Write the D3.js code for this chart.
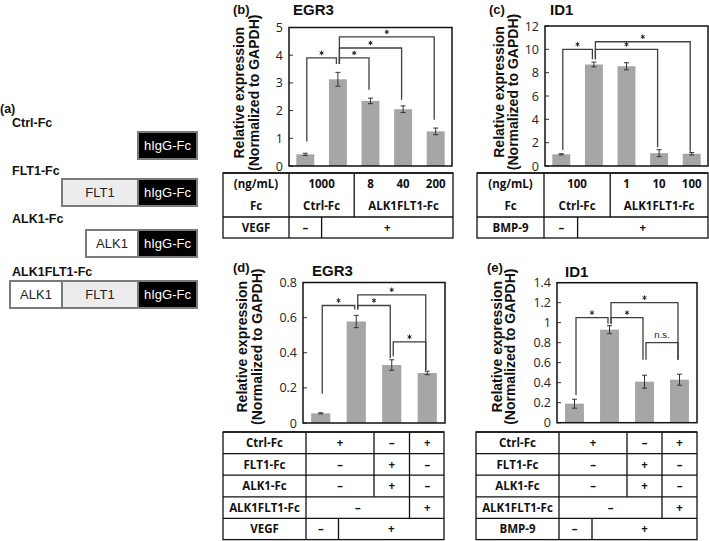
<!DOCTYPE html>
<html><head><meta charset="utf-8">
<script src="https://cdn.jsdelivr.net/npm/d3@7/dist/d3.min.js"></script>
<style>body{margin:0;background:#fff}</style>
</head><body><svg id="c" width="709" height="541"></svg>
<script>
// ---------------- DATA ----------------
const constructNames = ["Ctrl-Fc", "FLT1-Fc", "ALK1-Fc", "ALK1FLT1-Fc"];
const constructDomains = [["hIgG-Fc"], ["FLT1", "hIgG-Fc"], ["ALK1", "hIgG-Fc"], ["ALK1", "FLT1", "hIgG-Fc"]];

// (b) EGR3
const bValues = [0.42, 3.13, 2.35, 2.05, 1.25];
const bErrors = [0.04, 0.25, 0.10, 0.12, 0.12];
const bTicks = [0, 1, 2, 3, 4, 5];
const bTickLabels = ["0", "1", "2", "3", "4", "5"];
// [fromBar, toBar, level, label, fromLegEnd, toLegEnd]
const bBrackets = [[0, 1, 3.9, "*", 0.88, 3.68], [1, 2, 3.9, "*", 3.68, 2.75], [1, 3, 4.26, "*", 3.68, 2.39], [1, 4, 4.66, "*", 3.68, 1.67]];
// cells: [fromBar, toBar, text, drawLeftDivider]
const bTable = [
  {label: "(ng/mL)", cells: [[0, 1, "1000", 1], [2, 2, "8", 1], [3, 3, "40", 0], [4, 4, "200", 0]]},
  {label: "Fc", cells: [[0, 1, "Ctrl-Fc", 1], [2, 4, "ALK1FLT1-Fc", 1]]},
  {label: "VEGF", cells: [[0, 0, "–", 1], [1, 4, "+", 1]]}
];

// (c) ID1
const cValues = [1.0, 8.7, 8.55, 1.1, 1.05];
const cErrors = [0.05, 0.2, 0.3, 0.3, 0.1];
const cTicks = [0, 2, 4, 6, 8, 10, 12];
const cTickLabels = ["0", "2", "4", "6", "8", "10", "12"];
const cBrackets = [[0, 1, 10.0, "*", 1.37, 9.15], [1, 3, 10.0, "*", 9.15, 1.6], [1, 4, 10.65, "*", 9.15, 1.23]];
const cTable = [
  {label: "(ng/mL)", cells: [[0, 1, "100", 1], [2, 2, "1", 1], [3, 3, "10", 0], [4, 4, "100", 0]]},
  {label: "Fc", cells: [[0, 1, "Ctrl-Fc", 1], [2, 4, "ALK1FLT1-Fc", 1]]},
  {label: "BMP-9", cells: [[0, 0, "–", 1], [1, 4, "+", 1]]}
];

// (d) EGR3
const dValues = [0.055, 0.578, 0.33, 0.285];
const dErrors = [0.003, 0.035, 0.03, 0.01];
const dTicks = [0, 0.2, 0.4, 0.6, 0.8];
const dTickLabels = ["0", "0.2", "0.4", "0.6", "0.8"];
const dBrackets = [[0, 1, 0.669, "*", 0.167, 0.646], [1, 2, 0.669, "*", 0.646, 0.37], [1, 3, 0.73, "*", 0.646, 0.3], [2, 3, 0.462, "*", 0.38, 0.3]];
const dTable = [
  {label: "Ctrl-Fc", cells: [[0, 1, "+", 1], [2, 2, "–", 1], [3, 3, "+", 1]]},
  {label: "FLT1-Fc", cells: [[0, 1, "–", 1], [2, 2, "+", 1], [3, 3, "–", 1]]},
  {label: "ALK1-Fc", cells: [[0, 1, "–", 1], [2, 2, "+", 1], [3, 3, "–", 1]]},
  {label: "ALK1FLT1-Fc", cells: [[0, 2, "–", 1], [3, 3, "+", 1]]},
  {label: "VEGF", cells: [[0, 0, "–", 1], [1, 3, "+", 1]]}
];

// (e) ID1
const eValues = [0.19, 0.93, 0.41, 0.43];
const eErrors = [0.045, 0.04, 0.065, 0.055];
const eTicks = [0, 0.2, 0.4, 0.6, 0.8, 1.0, 1.2, 1.4];
const eTickLabels = ["0", "0.2", "0.4", "0.6", "0.8", "1", "1.2", "1.4"];
const eBrackets = [[0, 1, 1.05, "*", 0.277, 0.99], [1, 2, 1.05, "*", 0.99, 0.63], [1, 3, 1.2, "*", 0.99, 0.63], [2, 3, 0.8, "n.s.", 0.63, 0.63]];
const eTable = [
  {label: "Ctrl-Fc", cells: [[0, 1, "+", 1], [2, 2, "–", 1], [3, 3, "+", 1]]},
  {label: "FLT1-Fc", cells: [[0, 1, "–", 1], [2, 2, "+", 1], [3, 3, "–", 1]]},
  {label: "ALK1-Fc", cells: [[0, 1, "–", 1], [2, 2, "+", 1], [3, 3, "–", 1]]},
  {label: "ALK1FLT1-Fc", cells: [[0, 2, "–", 1], [3, 3, "+", 1]]},
  {label: "BMP-9", cells: [[0, 0, "–", 1], [1, 3, "+", 1]]}
];

const yTitle1 = "Relative expression";
const yTitle2 = "(Normalized to GAPDH)";

// ---------------- STYLE / LAYOUT ----------------
const ARIAL = "'Liberation Sans', Arial, Helvetica, sans-serif";
const TICKF = "'Open Sans', sans-serif";
const TABF = "'Open Sans', sans-serif";
const BAR = "#a6a6a6", LINE = "#404040";

const svg = d3.select("#c");
svg.append("rect").attr("width", 709).attr("height", 541).attr("fill", "#fff");

function panel(cfg, values, errors, ticks, tickLabels, brackets) {
  const x = d3.scaleBand().domain(d3.range(values.length)).range([cfg.x0, cfg.x1])
    .paddingInner(cfg.pad).paddingOuter(cfg.pad / 2);
  const y = d3.scaleLinear().domain([0, cfg.max]).range([cfg.yBot, cfg.yTop]);
  const g = svg.append("g");

  const ax = g.append("g").attr("transform", `translate(${cfg.x0},0)`)
    .call(d3.axisLeft(y).tickValues(ticks).tickSize(0).tickPadding(6).tickFormat((d, i) => tickLabels[i]));
  ax.select(".domain").remove();
  ax.selectAll("text").attr("font-family", TICKF).attr("font-size", 12.5).attr("fill", "#222");

  g.selectAll(".itick").data(ticks).join("line")
    .attr("x1", cfg.x0).attr("x2", cfg.x0 + 4)
    .attr("y1", d => y(d)).attr("y2", d => y(d)).attr("stroke", "#333").attr("stroke-width", 1);

  g.selectAll(".bar").data(values).join("rect")
    .attr("x", (d, i) => x(i)).attr("width", x.bandwidth())
    .attr("y", d => y(d)).attr("height", d => cfg.yBot - y(d)).attr("fill", BAR);

  const cx = i => x(i) + x.bandwidth() / 2;
  const eg = g.selectAll(".err").data(values).join("g");
  eg.append("line").attr("x1", (d, i) => cx(i)).attr("x2", (d, i) => cx(i))
    .attr("y1", (d, i) => y(d - errors[i])).attr("y2", (d, i) => y(d + errors[i]));
  eg.append("line").attr("x1", (d, i) => cx(i) - 2.5).attr("x2", (d, i) => cx(i) + 2.5)
    .attr("y1", (d, i) => y(d + errors[i])).attr("y2", (d, i) => y(d + errors[i]));
  eg.append("line").attr("x1", (d, i) => cx(i) - 2.5).attr("x2", (d, i) => cx(i) + 2.5)
    .attr("y1", (d, i) => y(d - errors[i])).attr("y2", (d, i) => y(d - errors[i]));
  eg.selectAll("line").attr("stroke", "#333").attr("stroke-width", 1);

  g.append("rect").attr("x", cfg.x0).attr("y", cfg.yTop).attr("width", cfg.x1 - cfg.x0)
    .attr("height", cfg.yBot - cfg.yTop).attr("fill", "none").attr("stroke", "#111").attr("stroke-width", 1.5);

  const star = d3.symbol(d3.symbolAsterisk, 14);
  brackets.forEach(([a, b, lvl, lab, la, lb]) => {
    const xa = cx(a) + 1.5, xb = cx(b) - 1.5;
    g.append("path").attr("d", `M${xa},${y(la)}V${y(lvl)}H${xb}V${y(lb)}`)
      .attr("fill", "none").attr("stroke", LINE).attr("stroke-width", 1.3);
    if (lab === "*") {
      g.append("path").attr("d", star()).attr("transform", `translate(${(xa + xb) / 2},${y(lvl) - 5})`)
        .attr("fill", "none").attr("stroke", "#222").attr("stroke-width", 1);
    } else {
      g.append("text").attr("x", (xa + xb) / 2).attr("y", y(lvl) - 5)
        .attr("text-anchor", "middle").attr("font-family", ARIAL).attr("font-size", 9.5)
        .attr("fill", "#222").text(lab);
    }
  });

  const cyy = (cfg.yTop + cfg.yBot) / 2 + cfg.tdy;
  [[yTitle1, cfg.t1], [yTitle2, cfg.t2]].forEach(([t, dx]) => {
    g.append("text").attr("transform", `translate(${cfg.x0 + dx},${cyy}) rotate(-90)`)
      .attr("text-anchor", "middle").attr("font-family", ARIAL).attr("font-weight", "bold")
      .attr("font-size", 14).attr("fill", "#111").text(t);
  });
  return x;
}

function table(x, cfg, rows) {
  const g = svg.append("g");
  const n = x.domain().length;
  const step = x.step();
  const bx = k => k === 0 ? cfg.div : (k === n ? cfg.right : cfg.x0 + k * step);
  let yy = cfg.top;
  const st = (s) => s.attr("stroke", "#111").attr("stroke-width", 1.3);
  const txt = (xx, y0, t) => g.append("text").attr("x", xx).attr("y", y0).attr("dy", "0.36em")
      .attr("text-anchor", "middle").attr("font-family", TABF).attr("font-weight", "bold").attr("font-size", 11.5)
      .attr("fill", "#111").text(t);
  rows.forEach((r, ri) => {
    const h = cfg.heights[ri];
    if (cfg.lines[ri]) st(g.append("line").attr("x1", cfg.left).attr("x2", cfg.right).attr("y1", yy).attr("y2", yy));
    txt((cfg.left + cfg.div) / 2, yy + h / 2, r.label);
    r.cells.forEach(([a, b, t, dv], ci) => {
      const xa = bx(a), xb = bx(b + 1);
      if (ci > 0 && dv) st(g.append("line").attr("x1", xa).attr("x2", xa).attr("y1", yy).attr("y2", yy + h));
      const tx = (a === b) ? x(a) + x.bandwidth() / 2 : (xa + xb) / 2;
      txt(tx, yy + h / 2, t);
    });
    yy += h;
  });
  st(g.append("rect").attr("x", cfg.left).attr("y", cfg.top).attr("width", cfg.right - cfg.left)
    .attr("height", yy - cfg.top).attr("fill", "none"));
  st(g.append("line").attr("x1", cfg.div).attr("x2", cfg.div).attr("y1", cfg.top).attr("y2", yy));
}

// ---- (b)
const cfgB = {x0: 289, x1: 452, yTop: 27.5, yBot: 166, max: 5, pad: 0.45, t1: -45, t2: -30, tdy: -4};
const xB = panel(cfgB, bValues, bErrors, bTicks, bTickLabels, bBrackets);
table(xB, {x0: 289, div: 289, left: 223, right: 453, top: 173, heights: [22, 22, 21], lines: [true, false, true]}, bTable);

// ---- (c)
const cfgC = {x0: 545, x1: 708, yTop: 26, yBot: 166, max: 12, pad: 0.45, t1: -41, t2: -27, tdy: -4};
const xC = panel(cfgC, cValues, cErrors, cTicks, cTickLabels, cBrackets);
table(xC, {x0: 545, div: 544, left: 477, right: 708, top: 173, heights: [22, 22, 21], lines: [true, false, true]}, cTable);

// ---- (d)
const cfgD = {x0: 303, x1: 445, yTop: 282.5, yBot: 423, max: 0.8, pad: 0.46, t1: -56, t2: -41, tdy: -6};
const xD = panel(cfgD, dValues, dErrors, dTicks, dTickLabels, dBrackets);
table(xD, {x0: 303, div: 306, left: 223, right: 444, top: 432, heights: [21.6, 21.6, 21.6, 21.6, 21.2], lines: [true, true, true, true, true]}, dTable);

// ---- (e)
const cfgE = {x0: 557, x1: 697, yTop: 282.7, yBot: 422.7, max: 1.4, pad: 0.46, t1: -55, t2: -42, tdy: -6};
const xE = panel(cfgE, eValues, eErrors, eTicks, eTickLabels, eBrackets);
table(xE, {x0: 557, div: 559, left: 476, right: 697, top: 432, heights: [21.6, 21.6, 21.6, 21.6, 21.2], lines: [true, true, true, true, true]}, eTable);

// ---- panel titles
const titles = [["(b)", 233, 14, 13], ["EGR3", 293, 15, 15], ["(c)", 489, 14, 13], ["ID1", 550, 15, 15],
                ["(d)", 233, 272, 13], ["EGR3", 312, 276, 15], ["(e)", 487, 272, 13], ["ID1", 565, 277, 15],
                ["(a)", 0, 113, 12.5]];
titles.forEach(([t, x, y, fs]) => svg.append("text").attr("x", x).attr("y", y).attr("font-family", ARIAL)
  .attr("font-weight", "bold").attr("font-size", fs).attr("fill", "#111").text(t));

// ---- (a) constructs
const domainStyle = {"hIgG-Fc": {w: 59, fill: "#000", text: "#fff"}, "FLT1": {w: 76, fill: "#ececec", text: "#222"}, "ALK1": {w: 52, fill: "#fff", text: "#222"}};
const labelY = [127, 175, 223, 276];
const boxY = [132, 179, 230, 281];
const aRight = 197, boxH = 27;
constructNames.forEach((name, i) => {
  svg.append("text").attr("x", 12).attr("y", labelY[i]).attr("font-family", ARIAL).attr("font-weight", "bold")
    .attr("font-size", 12.5).attr("fill", "#111").text(name);
  const doms = constructDomains[i];
  let xr = aRight;
  const placed = [];
  for (let k = doms.length - 1; k >= 0; k--) {
    const s = domainStyle[doms[k]];
    placed.push([doms[k], xr - s.w, s]);
    xr -= s.w;
  }
  placed.forEach(([dn, xl, s]) => {
    svg.append("rect").attr("x", xl).attr("y", boxY[i]).attr("width", s.w).attr("height", boxH)
      .attr("fill", s.fill).attr("stroke", "#7a7a7a").attr("stroke-width", 2);
    svg.append("text").attr("x", xl + s.w / 2).attr("y", boxY[i] + boxH / 2).attr("dy", "0.35em")
      .attr("text-anchor", "middle").attr("font-family", ARIAL).attr("font-size", 13).attr("fill", s.text).text(dn);
  });
});
</script></body></html>
